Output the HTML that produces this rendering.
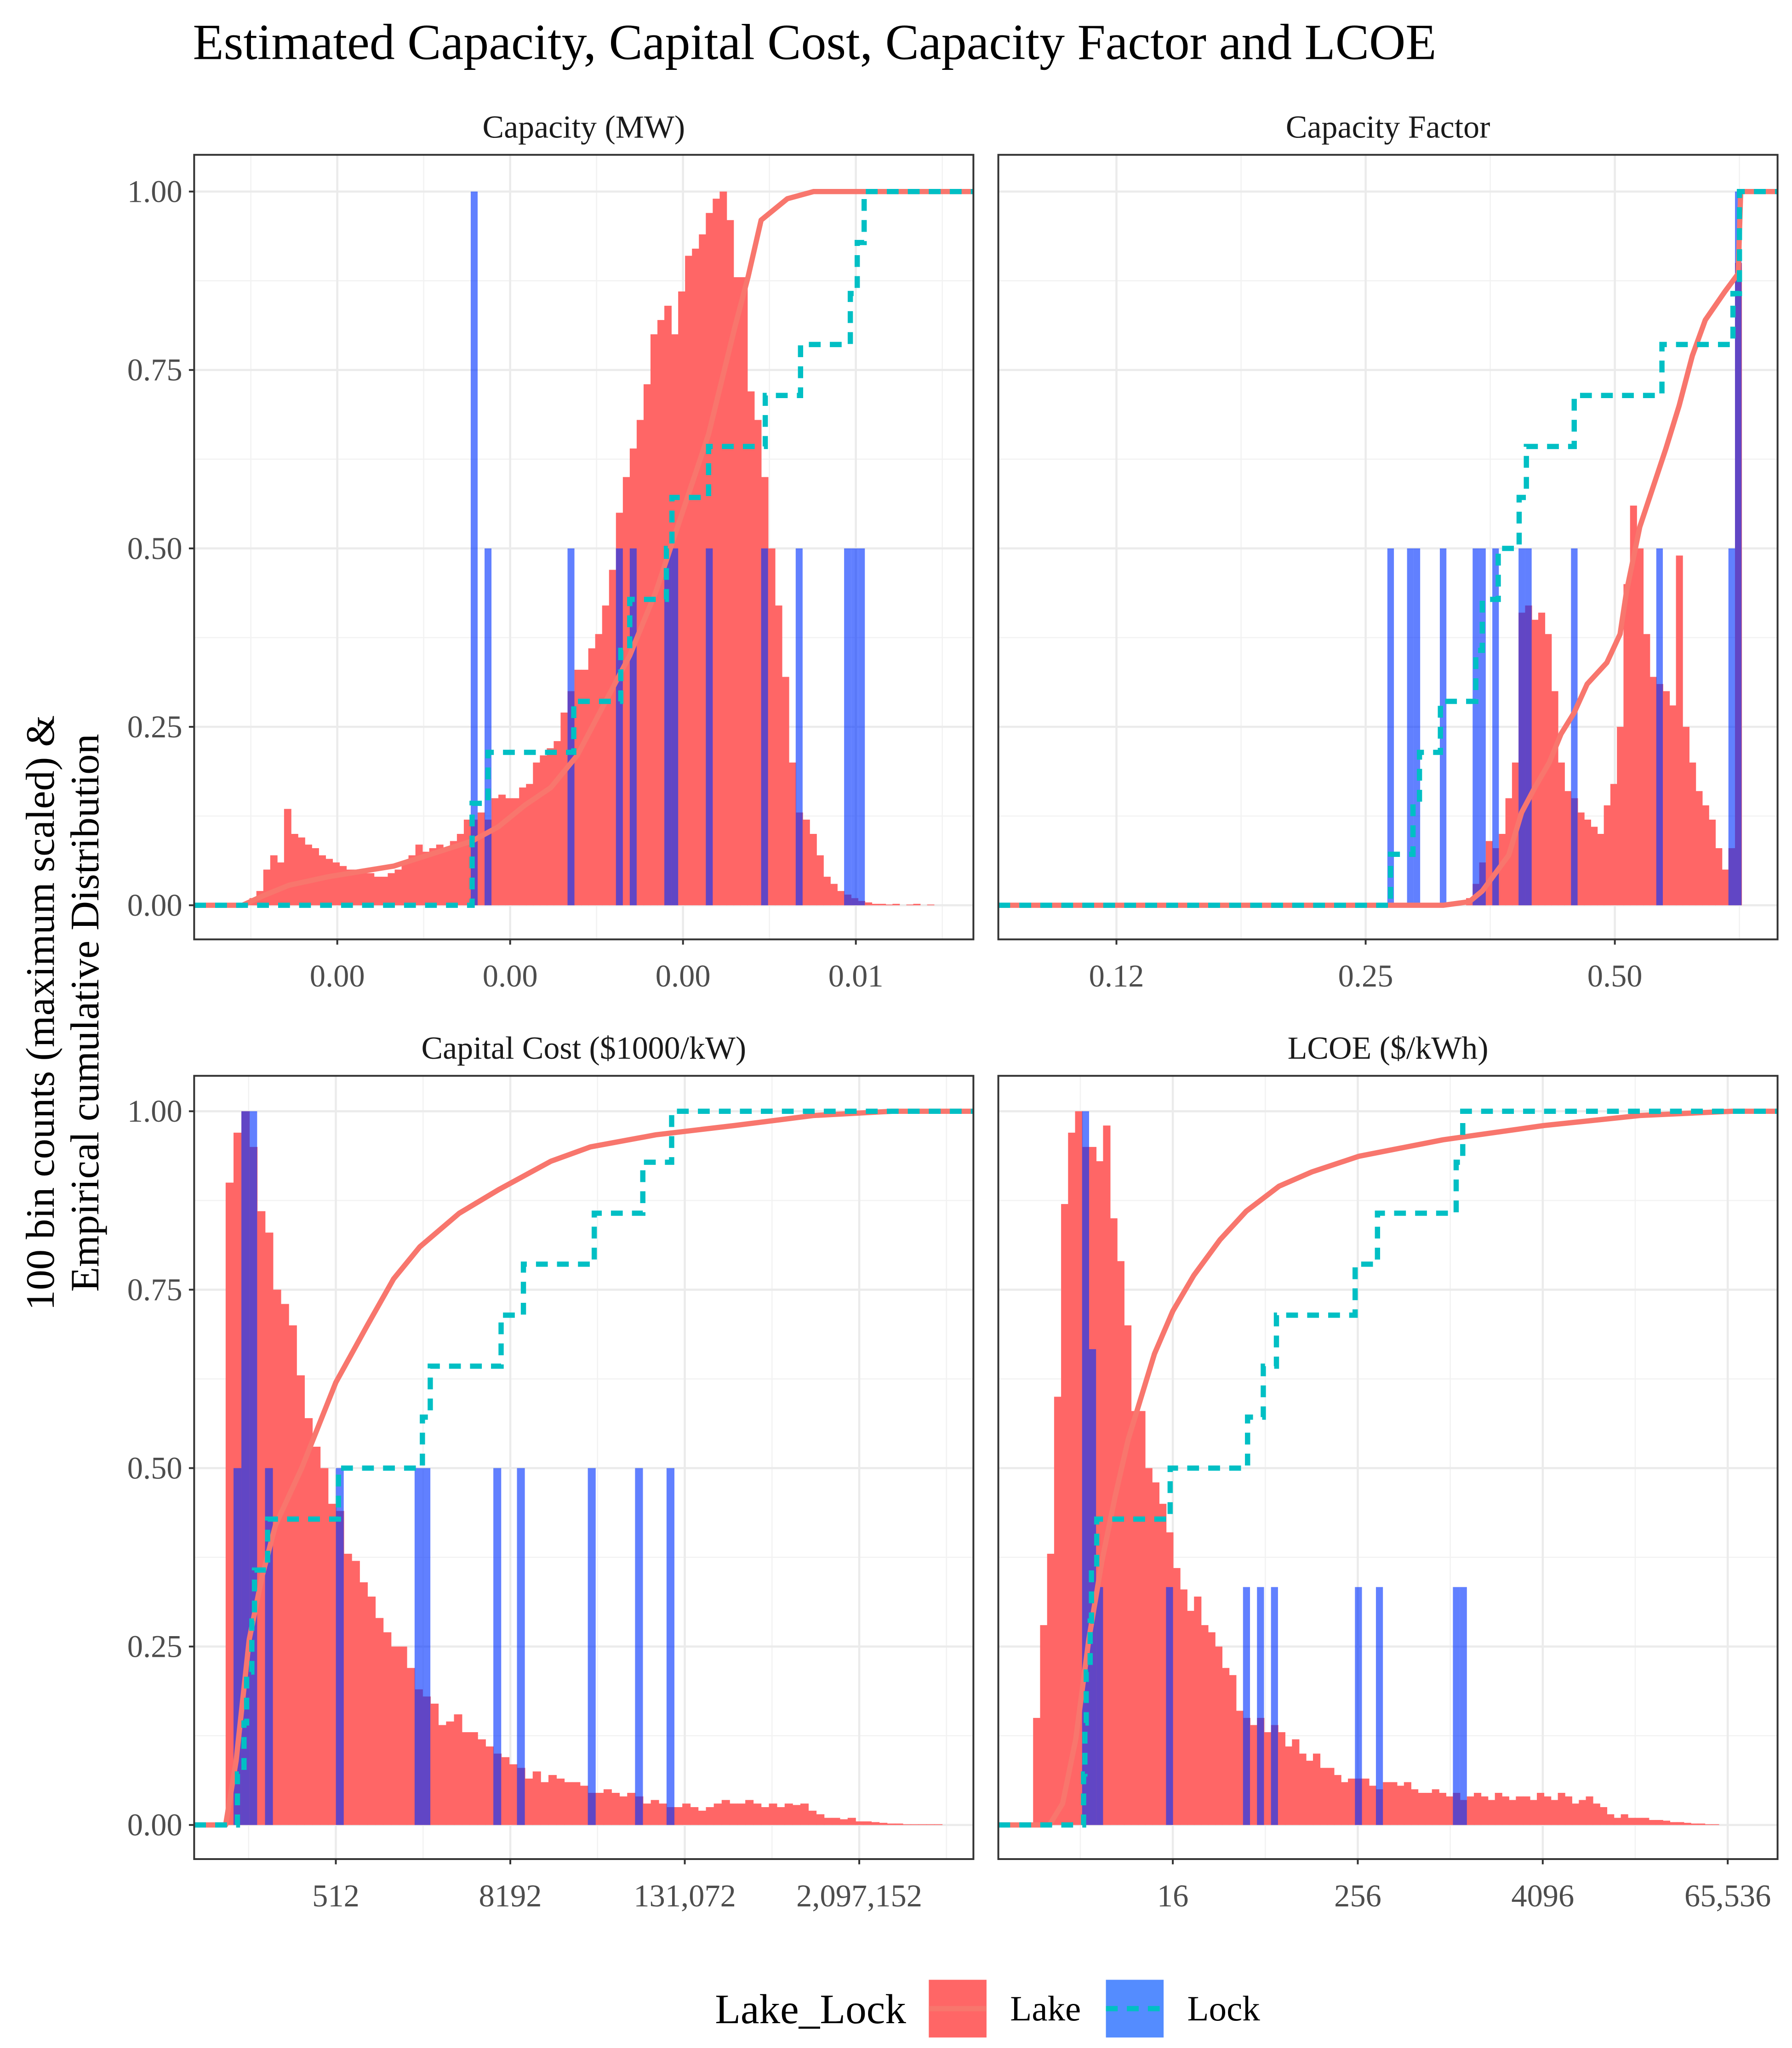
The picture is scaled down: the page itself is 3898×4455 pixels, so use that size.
<!DOCTYPE html>
<html><head><meta charset="utf-8"><style>
html,body{margin:0;padding:0;background:#fff;}
svg{display:block;font-family:"Liberation Serif",serif;}
</style></head><body>
<svg id="chart" xmlns="http://www.w3.org/2000/svg" width="3898" height="4455" viewBox="0 0 1366 1561" preserveAspectRatio="none">
<rect x="0" y="0" width="1366" height="1561" fill="#fff"/>
<text x="147" y="45" font-size="38.5" fill="#000">Estimated Capacity, Capital Cost, Capacity Factor and LCOE</text>
<g font-size="31" fill="#000">
<text transform="translate(41,772) rotate(-90)" text-anchor="middle">100 bin counts (maximum scaled) &amp;</text>
<text transform="translate(75,772) rotate(-90)" text-anchor="middle">Empirical cumulative Distribution</text>
</g>
<g id="panels"></g>
<g>
<text x="545" y="1542" font-size="32" fill="#000">Lake_Lock</text>
<g>
<rect x="708" y="1509" width="44" height="44" fill="rgb(255,102,102)"/>
<line x1="708" y1="1531" x2="752" y2="1531" stroke="#F8766D" stroke-width="4"/>
<text x="770" y="1540" font-size="27" fill="#000">Lake</text>
</g>
<g>
<rect x="843" y="1509" width="44" height="44" fill="rgb(84,140,255)"/>
<line x1="843" y1="1531" x2="887" y2="1531" stroke="#00BFC4" stroke-width="4" stroke-dasharray="9 7"/>
<text x="905" y="1540" font-size="27" fill="#000">Lock</text>
</g>
</g>
</svg>
<script>
// ---------- Data (x values in each panel's transformed axis units) ----------
const capTicks = [0, 25, 50, 75];
const capTickLabels = ['0.00', '0.00', '0.00', '0.01'];
const capLakeStart = -12.7;
const capLakeWidth = 1;
const capLake = [0.01,0.02,0.05,0.07,0.06,0.135,0.10,0.095,0.085,0.08,0.07,0.065,0.06,0.055,0.05,0.05,0.045,0.045,0.04,0.04,
0.045,0.05,0.06,0.07,0.085,0.075,0.08,0.085,0.08,0.09,0.10,0.12,0.12,0.13,0.12,0.15,0.155,0.15,0.15,0.165,
0.17,0.2,0.21,0.22,0.23,0.27,0.3,0.33,0.33,0.36,0.38,0.42,0.47,0.55,0.6,0.64,0.68,0.73,0.8,0.82,
0.84,0.8,0.86,0.91,0.92,0.94,0.97,0.99,1.0,0.96,0.88,0.88,0.72,0.68,0.6,0.5,0.42,0.32,0.2,0.13,
0.12,0.1,0.07,0.04,0.03,0.02,0.015,0.01,0.006,0.004,0.002,0.002,0.001,0.002,0,0.001,0.002,0,0.001,0];
const capLock = [19.5,19.5,21.8,34.2,41,42.3,47.6,48.4,53.7,61.9,67,74.2,75.2,76.2];
const capCdfX = [-20.7,-13.7,-10.8,-7,-1.3,8.2,19.5,23.3,27.1,30.9,34.7,38.5,42.3,46.1,49.9,53.7,57.5,59.4,61.3,65.1,68.9,92];
const capCdfY = [0,0,0.013,0.028,0.04,0.055,0.09,0.11,0.14,0.165,0.21,0.28,0.35,0.44,0.55,0.66,0.81,0.88,0.96,0.99,1,1];

const cfTicks = [-3, -2, -1];
const cfTickLabels = ['0.12', '0.25', '0.50'];
const cfLakeStart = -1.597;
const cfLakeWidth = 0.02632;
const cfLake = [0.01,0.03,0.06,0.09,0.08,0.1,0.15,0.2,0.41,0.42,0.4,0.41,0.38,0.3,0.2,0.16,0.15,0.13,0.12,0.11,
0.1,0.14,0.17,0.25,0.45,0.56,0.5,0.38,0.32,0.31,0.3,0.28,0.49,0.25,0.2,0.16,0.14,0.12,0.08,0.05,0.08,0.9];
const cfLock = [-1.9,-1.81,-1.784,-1.7,-1.558,-1.532,-1.468,-1.384,-1.355,-1.163,-0.811,-0.526,-0.5,-0.5];
const cfCdfX = [-3.474,-1.689,-1.584,-1.532,-1.426,-1.374,-1.321,-1.263,-1.216,-1.163,-1.111,-1.032,-0.979,-0.953,-0.9,-0.795,-0.742,-0.689,-0.637,-0.558,-0.505,-0.495,-0.347];
const cfCdfY = [0,0,0.005,0.02,0.07,0.13,0.165,0.2,0.24,0.27,0.31,0.34,0.38,0.44,0.53,0.64,0.7,0.77,0.82,0.86,0.885,1,1];

const ccTicks = [9, 13, 17, 21];
const ccTickLabels = ['512', '8192', '131,072', '2,097,152'];
const ccLakeStart = 6.474;
const ccLakeWidth = 0.1805;
const ccLake = [0.9,0.97,1.0,0.95,0.86,0.83,0.75,0.73,0.7,0.63,0.57,0.53,0.5,0.45,0.44,0.38,0.37,0.34,0.32,0.29,
0.27,0.25,0.25,0.22,0.19,0.18,0.17,0.14,0.145,0.155,0.13,0.13,0.12,0.11,0.1,0.095,0.085,0.08,0.065,0.075,
0.06,0.07,0.065,0.06,0.06,0.055,0.045,0.045,0.05,0.045,0.04,0.045,0.04,0.03,0.035,0.03,0.025,0.025,0.03,0.025,
0.02,0.025,0.03,0.035,0.03,0.03,0.035,0.03,0.025,0.03,0.025,0.03,0.028,0.03,0.02,0.015,0.01,0.01,0.008,0.01,
0.005,0.005,0.004,0.003,0.002,0.002,0.001,0.001,0.001,0.001,0.001];
const ccLock = [6.744,6.895,6.955,7.075,7.135,7.436,9.06,10.985,11.165,12.789,13.301,14.925,16.038,16.699];
const ccCdfX = [5.752,6.474,6.714,7.015,7.316,7.617,7.917,8.218,9,9.722,10.323,10.925,11.827,12.729,13.932,14.835,16.338,18.143,19.947,21.752,23.617];
const ccCdfY = [0,0,0.09,0.26,0.35,0.42,0.46,0.5,0.62,0.7,0.765,0.81,0.857,0.89,0.93,0.95,0.967,0.98,0.994,1,1];

const lcTicks = [4, 8, 12, 16];
const lcTickLabels = ['16', '256', '4096', '65,536'];
const lcLakeStart = 0.979;
const lcLakeWidth = 0.1513;
const lcLake = [0.15,0.28,0.38,0.6,0.87,0.97,1.0,0.95,0.95,0.93,0.98,0.85,0.79,0.7,0.58,0.58,0.5,0.48,0.45,0.41,
0.36,0.33,0.3,0.32,0.28,0.27,0.25,0.22,0.21,0.16,0.15,0.14,0.15,0.13,0.14,0.13,0.11,0.12,0.1,0.09,
0.1,0.08,0.08,0.07,0.06,0.065,0.065,0.065,0.055,0.05,0.06,0.06,0.055,0.06,0.05,0.045,0.045,0.05,0.045,0.04,
0.045,0.035,0.04,0.045,0.04,0.035,0.045,0.04,0.035,0.04,0.04,0.035,0.045,0.04,0.035,0.045,0.04,0.03,0.035,0.04,
0.03,0.025,0.015,0.01,0.015,0.01,0.01,0.01,0.007,0.007,0.006,0.004,0.004,0.003,0.002,0.002,0.001,0.001];
const lcLock = [2.071,2.099,2.128,2.213,2.241,2.355,3.943,5.617,5.957,6.241,7.943,8.426,10.128,10.27];
const lcCdfX = [0.227,1.333,1.617,1.901,2.184,2.468,2.752,3.035,3.319,3.603,4,4.454,5.021,5.589,6.298,7.007,8.028,9.844,12.028,14.099,16.085,17.078];
const lcCdfY = [0,0,0.03,0.12,0.26,0.37,0.46,0.54,0.6,0.66,0.72,0.77,0.82,0.86,0.895,0.915,0.937,0.96,0.98,0.994,1,1];

const yTicks = [0, 0.25, 0.5, 0.75, 1];
const yTickLabels = ['0.00', '0.25', '0.50', '0.75', '1.00'];

// ---------- Layout ----------
const NS = 'http://www.w3.org/2000/svg';
const root = document.getElementById('panels');
function mk(tag, attrs, parent) {
  const e = document.createElementNS(NS, tag);
  for (const k in attrs) e.setAttribute(k, attrs[k]);
  parent.appendChild(e);
  return e;
}
const panels = [
  {id:'capacity', title:'Capacity (MW)', x0:148, x1:742, y0:118, y1:716, yZero:690, yOne:146, dom:[-20.7,92], showY:true,
   ticks:capTicks, labels:capTickLabels, lake:capLake, ls:capLakeStart, lw:capLakeWidth, lock:capLock, cx:capCdfX, cy:capCdfY},
  {id:'capacity-factor', title:'Capacity Factor', x0:761, x1:1355, y0:118, y1:716, yZero:690, yOne:146, dom:[-3.474,-0.347], showY:false,
   ticks:cfTicks, labels:cfTickLabels, lake:cfLake, ls:cfLakeStart, lw:cfLakeWidth, lock:cfLock, cx:cfCdfX, cy:cfCdfY},
  {id:'capital-cost', title:'Capital Cost ($1000/kW)', x0:148, x1:742, y0:820, y1:1417, yZero:1391, yOne:847, dom:[5.752,23.617], showY:true,
   ticks:ccTicks, labels:ccTickLabels, lake:ccLake, ls:ccLakeStart, lw:ccLakeWidth, lock:ccLock, cx:ccCdfX, cy:ccCdfY},
  {id:'lcoe', title:'LCOE ($/kWh)', x0:761, x1:1355, y0:820, y1:1417, yZero:1391, yOne:847, dom:[0.227,17.078], showY:false,
   ticks:lcTicks, labels:lcTickLabels, lake:lcLake, ls:lcLakeStart, lw:lcLakeWidth, lock:lcLock, cx:lcCdfX, cy:lcCdfY}
];

panels.forEach(p => {
  const g = mk('g', {}, root);
  
  
  const xs = v => p.x0 + (v - p.dom[0]) / (p.dom[1] - p.dom[0]) * (p.x1 - p.x0);
  const ys = v => p.yZero + (p.yOne - p.yZero) * v;
  const clip = 'clip-' + p.id;
  const cp = mk('clipPath', {id: clip}, g);
  mk('rect', {x:p.x0, y:p.y0, width:p.x1-p.x0, height:p.y1-p.y0}, cp);

  const st = mk('text', {x:(p.x0+p.x1)/2, y:p.y0-13, 'font-size':24.5, fill:'#1a1a1a', 'text-anchor':'middle'}, g);
  st.textContent = p.title;
  
  

  const grid = mk('g', {'clip-path':'url(#'+clip+')'}, g);
  
  
  for (let i = 0; i < yTicks.length - 1; i++) {
    const ym = ys((yTicks[i] + yTicks[i+1]) / 2);
    mk('line', {x1:p.x0, x2:p.x1, y1:ym, y2:ym, stroke:'#f2f2f2', 'stroke-width':0.9}, grid);
  }
  const step = p.ticks[1] - p.ticks[0];
  for (let v = p.ticks[0] - step * 2.5; v < p.dom[1] + step; v += step) {
    mk('line', {x1:xs(v), x2:xs(v), y1:p.y0, y2:p.y1, stroke:'#f2f2f2', 'stroke-width':0.9}, grid);
  }
  yTicks.forEach(v => mk('line', {x1:p.x0, x2:p.x1, y1:ys(v), y2:ys(v), stroke:'#ebebeb', 'stroke-width':1.6}, grid));
  p.ticks.forEach(v => mk('line', {x1:xs(v), x2:xs(v), y1:p.y0, y2:p.y1, stroke:'#ebebeb', 'stroke-width':1.6}, grid));

  const lg = mk('g', {'clip-path':'url(#'+clip+')'}, g);
  
  
  p.lake.forEach((h, i) => {
    if (h <= 0) return;
    const xa = xs(p.ls + i * p.lw), xb = xs(p.ls + (i + 1) * p.lw);
    const r = mk('rect', {x:xa, y:ys(h), width:xb - xa + 0.3, height:ys(0) - ys(h), fill:'rgb(255,102,102)'}, lg);
    
    
  });

  const counts = {};
  p.lock.forEach(v => { const b = Math.floor((v - p.ls) / p.lw); counts[b] = (counts[b] || 0) + 1; });
  const maxC = Math.max(...Object.values(counts));
  const kg = mk('g', {'clip-path':'url(#'+clip+')'}, g);
  
  
  Object.keys(counts).forEach(k => {
    const b = +k, h = counts[k] / maxC;
    const xa = xs(p.ls + b * p.lw), xb = xs(p.ls + (b + 1) * p.lw);
    const r = mk('rect', {x:xa, y:ys(h), width:xb - xa, height:ys(0) - ys(h), fill:'rgb(0,50,255)', 'fill-opacity':0.62}, kg);
    
    
  });

  let d = '';
  p.cx.forEach((v, i) => { d += (i ? 'L' : 'M') + xs(v).toFixed(2) + ',' + ys(p.cy[i]).toFixed(2); });
  const lc = mk('path', {d:d, fill:'none', stroke:'#F8766D', 'stroke-width':4, 'stroke-linejoin':'round', 'clip-path':'url(#'+clip+')'}, g);
  
  

  const sorted = p.lock.slice().sort((a, b) => a - b);
  const n = sorted.length;
  let d2 = 'M' + xs(p.dom[0]) + ',' + ys(0);
  sorted.forEach((v, i) => { d2 += 'H' + xs(v).toFixed(2) + 'V' + ys((i + 1) / n).toFixed(2); });
  d2 += 'H' + xs(p.dom[1]);
  const kc = mk('path', {d:d2, fill:'none', stroke:'#00BFC4', 'stroke-width':4, 'stroke-dasharray':'9 7', 'clip-path':'url(#'+clip+')'}, g);
  
  

  const fr = mk('rect', {x:p.x0, y:p.y0, width:p.x1 - p.x0, height:p.y1 - p.y0, fill:'none', stroke:'#333', 'stroke-width':1.4}, g);
  
  

  if (p.showY) {
    const ya = mk('g', {}, g);
    
    
    yTicks.forEach((v, i) => {
      mk('line', {x1:p.x0 - 4, x2:p.x0, y1:ys(v), y2:ys(v), stroke:'#333', 'stroke-width':1.4}, ya);
      const t = mk('text', {x:p.x0 - 9, y:ys(v) + 8, 'font-size':24, fill:'#4d4d4d', 'text-anchor':'end'}, ya);
      t.textContent = yTickLabels[i];
      
      
    });
  }

  const xa = mk('g', {}, g);
  
  
  p.ticks.forEach((v, i) => {
    mk('line', {x1:xs(v), x2:xs(v), y1:p.y1, y2:p.y1 + 4, stroke:'#333', 'stroke-width':1.4}, xa);
    const t = mk('text', {x:xs(v), y:p.y1 + 36, 'font-size':24, fill:'#4d4d4d', 'text-anchor':'middle'}, xa);
    t.textContent = p.labels[i];
    
    
  });
});
</script>
</body></html>
